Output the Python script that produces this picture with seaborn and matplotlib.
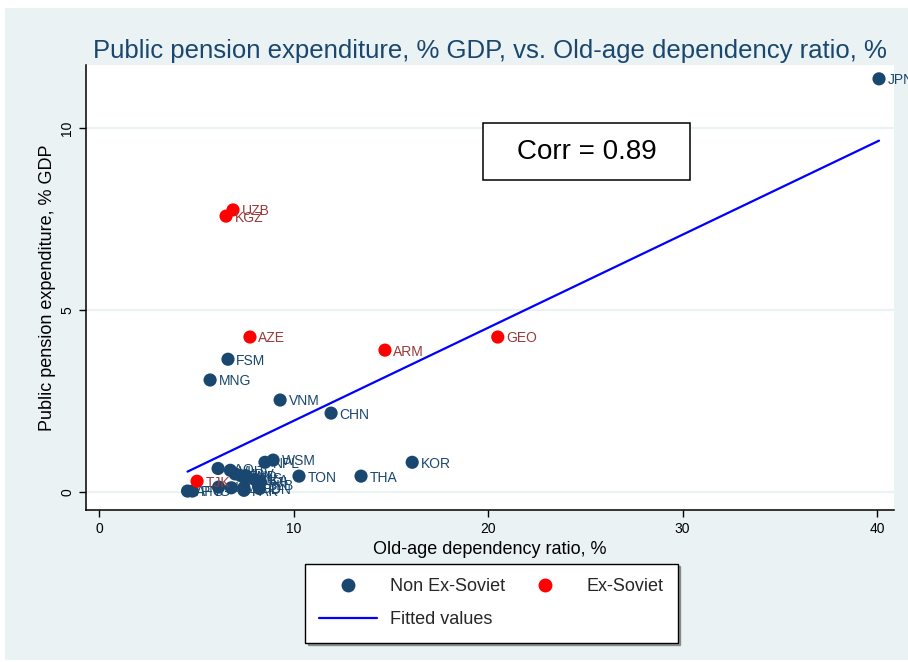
import numpy as np
import pandas as pd
import seaborn as sns
import matplotlib.pyplot as plt
from matplotlib.patches import Rectangle

# values (old-age dependency ratio %, pension spending % GDP)
non_codes = ['JPN', 'FSM', 'MNG', 'VNM', 'CHN', 'KOR', 'THA', 'TON', 'NPL', 'WSM',
             'AFG', 'PNG', 'LAO', 'KHM', 'VUT', 'MDV', 'PHL', 'MYS', 'IND', 'BGD',
             'LKA', 'FJI', 'IDN', 'PAK', 'SLB', 'TLS']
non_x = [40.1, 6.63, 5.71, 9.31, 11.93, 16.1, 13.47, 10.28, 8.53, 8.95,
         4.55, 4.80, 6.12, 6.15, 6.75, 7.0, 7.3, 7.5, 7.55, 7.45,
         8.0, 8.3, 8.25, 7.45, 8.2, 6.8]
non_y = [11.35, 3.65, 3.08, 2.53, 2.17, 0.82, 0.44, 0.44, 0.82, 0.88,
         0.03, 0.03, 0.65, 0.14, 0.60, 0.50, 0.45, 0.40, 0.45, 0.12,
         0.35, 0.28, 0.10, 0.05, 0.20, 0.12]

sov_codes = ['UZB', 'KGZ', 'AZE', 'ARM', 'GEO', 'TJK']
sov_x = [6.89, 6.53, 7.76, 14.7, 20.5, 5.04]
sov_y = [7.75, 7.58, 4.26, 3.90, 4.26, 0.30]

corr_text = 'Corr = 0.89'

navy = '#1a476f'
red = '#ff0000'
sov_label = '#9a3a3a'
bg = '#eaf2f3'

df = pd.DataFrame({
    'code': non_codes + sov_codes,
    'ratio': non_x + sov_x,
    'pension': non_y + sov_y,
    'group': ['Non Ex-Soviet'] * len(non_codes) + ['Ex-Soviet'] * len(sov_codes),
})

sns.set_style('white')
plt.rcParams['font.family'] = ['Liberation Sans', 'DejaVu Sans']

fig = plt.figure(figsize=(9.08, 6.62), dpi=100)
fig.patches.append(Rectangle((5 / 908, 2 / 662), 1, 1 - 10 / 662, transform=fig.transFigure,
                             facecolor=bg, edgecolor='none', zorder=-10))
ax = fig.add_axes([86 / 908, 1 - 510 / 662, 808 / 908, 445 / 662])
ax.set_facecolor('white')

for yv in [0, 5, 10]:
    ax.axhline(yv, color=bg, lw=1.6, zorder=0)

sns.regplot(data=df, x='ratio', y='pension', scatter=False, ci=None, truncate=True,
            color='#0000ff', line_kws={'lw': 1.6, 'zorder': 2}, ax=ax)
sns.scatterplot(data=df, x='ratio', y='pension', hue='group',
                palette={'Non Ex-Soviet': navy, 'Ex-Soviet': red},
                s=90, edgecolor='none', legend=False, zorder=3, ax=ax)

for _, r in df.iterrows():
    c = navy if r['group'] == 'Non Ex-Soviet' else sov_label
    ax.annotate(r['code'], (r['ratio'], r['pension']), xytext=(6, -1),
                textcoords='offset points', va='center', ha='left',
                fontsize=10, color=c, zorder=4, annotation_clip=False)

ax.set_xlim(-0.67, 40.87)
ax.set_ylim(-0.49, 11.73)
ax.set_xticks([0, 10, 20, 30, 40])
ax.set_yticks([0, 5, 10])
ax.set_yticklabels(['0', '5', '10'], rotation=90, va='center')
ax.tick_params(axis='both', direction='out', length=5, width=1, color='black',
               labelsize=10, labelcolor='black', bottom=True, left=True)
for s in ['top', 'right']:
    ax.spines[s].set_visible(False)
for s in ['left', 'bottom']:
    ax.spines[s].set_color('black')
    ax.spines[s].set_linewidth(1.1)

ax.set_xlabel('Old-age dependency ratio, %', fontsize=13, color='black', labelpad=4)
ax.set_ylabel('Public pension expenditure, % GDP', fontsize=13, color='black', labelpad=3)
ax.set_title('Public pension expenditure, % GDP, vs. Old-age dependency ratio, %',
             fontsize=18.5, color=navy, pad=5)

ax.add_patch(Rectangle((0.491, 0.7416), 0.2565, 0.128, transform=ax.transAxes,
                       facecolor='white', edgecolor='black', lw=1.1, zorder=5))
ax.text(0.6195, 0.8056, corr_text, transform=ax.transAxes, ha='center', va='center',
        fontsize=20, color='black', zorder=6)

h_non = plt.Line2D([], [], marker='o', ls='none', color=navy, markersize=9)
h_sov = plt.Line2D([], [], marker='o', ls='none', color=red, markersize=9)
h_fit = plt.Line2D([], [], color='#0000ff', lw=1.6)
leg = fig.legend([h_non, h_fit, h_sov], ['Non Ex-Soviet', 'Fitted values', 'Ex-Soviet'],
                 ncol=2, loc='center', bbox_to_anchor=(0.541, 0.089), fontsize=13,
                 frameon=True, fancybox=False, shadow=True, edgecolor='black',
                 handlelength=3.2, handletextpad=0.7, columnspacing=0.6,
                 borderpad=0.8, labelspacing=0.9)
leg.get_frame().set_linewidth(1.0)

fig.savefig('out.png', dpi=100, facecolor='white')
